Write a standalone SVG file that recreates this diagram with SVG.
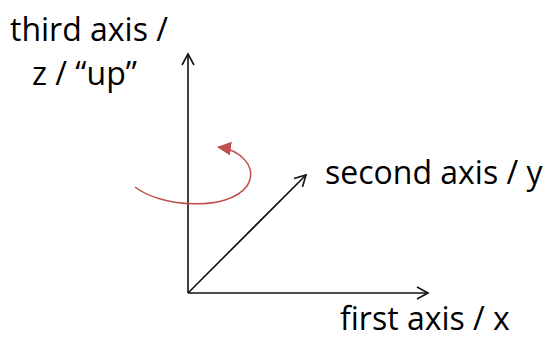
<svg xmlns="http://www.w3.org/2000/svg" width="551" height="339" viewBox="0 0 551 339">
<defs>
<style>
.lbl{font-family:"Open Sans","Liberation Sans",sans-serif;font-size:32px;fill:#000}
.ax{stroke:#111;stroke-width:1.6;fill:none}
</style>
<marker id="open" markerWidth="14" markerHeight="14" refX="12" refY="7" orient="auto" markerUnits="userSpaceOnUse">
<path d="M1,1 L12,7 L1,13" fill="none" stroke="#111" stroke-width="1.6"/>
</marker>
<marker id="red" markerWidth="16" markerHeight="14" refX="13" refY="7" orient="auto" markerUnits="userSpaceOnUse">
<path d="M0,0 L14,7 L0,14 z" fill="#c0504d"/>
</marker>
</defs>
<rect width="551" height="339" fill="#fff"/>
<g id="connectors">
<line class="ax" x1="188" y1="293" x2="188" y2="54" marker-end="url(#open)"/>
<line class="ax" x1="188" y1="293" x2="428" y2="293" marker-end="url(#open)"/>
<line class="ax" x1="188" y1="293" x2="306" y2="175" marker-end="url(#open)"/>
<path id="rotation" d="M135,187 C160,207 228,212 247,186 C258,168 242,150 218,147" fill="none" stroke="#c0504d" stroke-width="1.5" marker-end="url(#red)"/>
</g>
<g id="z-label"><text class="lbl" x="10" y="41">third axis /</text><text class="lbl" x="32" y="85">z / “up”</text></g>
<g id="y-label"><text class="lbl" x="325" y="184">second axis / y</text></g>
<g id="x-label"><text class="lbl" x="340" y="330">first axis / x</text></g>
</svg>
